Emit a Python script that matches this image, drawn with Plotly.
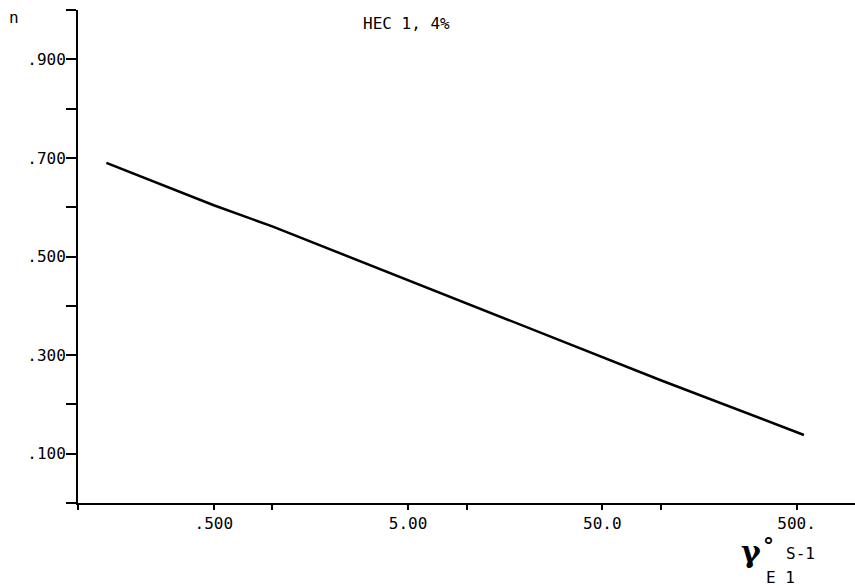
import plotly.graph_objects as go

# Data
shear_rate = [0.14, 0.5, 1.0, 5.0, 10.0, 50.0, 100.0, 546.0]
n_index = [0.690, 0.604, 0.561, 0.452, 0.405, 0.296, 0.249, 0.138]

x_tickvals = [0.1, 0.5, 1, 5, 10, 50, 100, 500]
x_ticktext = ["", ".500", "", "5.00", "", "50.0", "", "500."]
y_tickvals = [0.0, 0.1, 0.2, 0.3, 0.4, 0.5, 0.6, 0.7, 0.8, 0.9, 1.0]
y_ticktext = ["", ".100", "", ".300", "", ".500", "", ".700", "", ".900", ""]

FONT = "DejaVu Sans Mono"
W, H = 855, 588
L, R, T, B = 78, 0, 10, 85

fig = go.Figure()
fig.add_trace(go.Scatter(x=shear_rate, y=n_index, mode="lines",
                         line=dict(color="black", width=2.5), showlegend=False))

fig.update_layout(
    width=W, height=H,
    margin=dict(l=L, r=R, t=T, b=B, pad=0, autoexpand=False),
    paper_bgcolor="white", plot_bgcolor="white",
    font=dict(family=FONT, size=16, color="black"),
    xaxis=dict(type="log", range=[-1, 3], tickvals=x_tickvals, ticktext=x_ticktext,
               ticks="outside", ticklen=5, tickwidth=2, tickcolor="black",
               showline=True, linewidth=2, linecolor="black", showgrid=False,
               zeroline=False, automargin=False, tickfont=dict(family=FONT, size=16)),
    yaxis=dict(range=[0, 1.0], tickvals=y_tickvals, ticktext=y_ticktext,
               ticks="outside", ticklen=10, tickwidth=2, tickcolor="black",
               ticklabelstandoff=-3,
               showline=True, linewidth=2, linecolor="black", showgrid=False,
               zeroline=False, automargin=False, tickfont=dict(family=FONT, size=16)),
)

pw, ph = W - L - R, H - T - B

def px(x):
    return (x - L) / pw

def py(y):
    return (H - B - y) / ph

anns = [
    dict(text="HEC 1, 4%", x=406, y=23, size=16, family=FONT),
    dict(text="n", x=14, y=17, size=16, family=FONT),
    dict(text="<b>γ</b>", x=751, y=551, size=30, family="DejaVu Serif"),
    dict(text="<b>°</b>", x=768, y=545, size=22, family="DejaVu Sans"),
    dict(text="S-1", x=800, y=553, size=16, family=FONT),
    dict(text="E 1", x=780, y=577, size=16, family=FONT),
]
for a in anns:
    fig.add_annotation(text=a["text"], x=px(a["x"]), y=py(a["y"]), xref="paper", yref="paper",
                       showarrow=False, xanchor="center", yanchor="middle",
                       font=dict(family=a["family"], size=a["size"], color="black"))

fig.write_html("out.html",
               config={"displayModeBar": False},
               post_script="document.body.style.margin='0px';document.body.style.overflow='hidden';")
